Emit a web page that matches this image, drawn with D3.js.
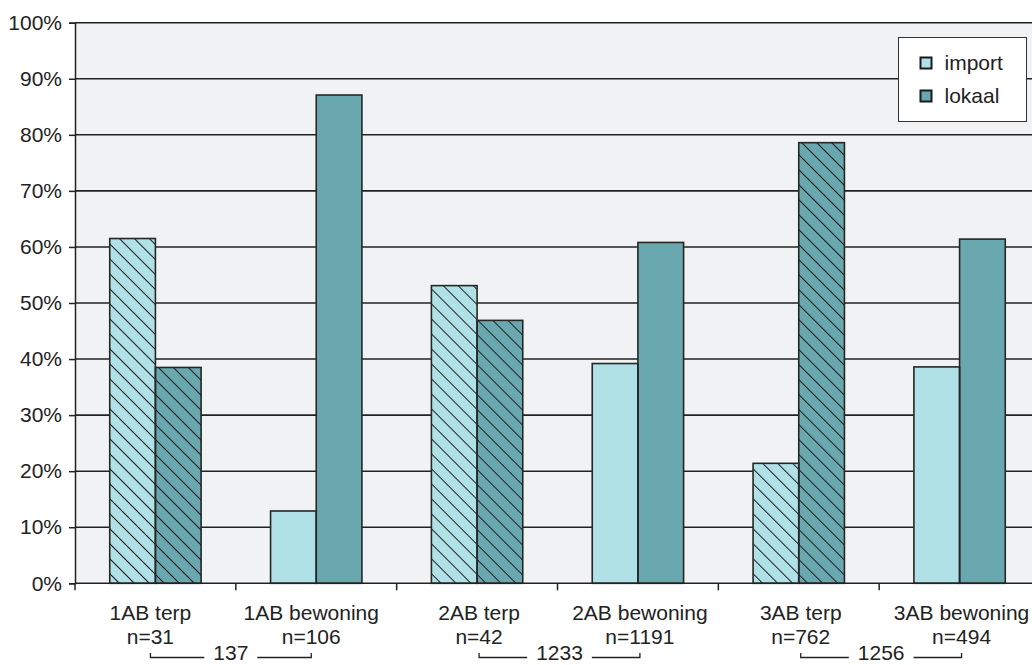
<!DOCTYPE html>
<html>
<head>
<meta charset="utf-8">
<script src="https://cdn.jsdelivr.net/npm/d3@7"></script>
<style>
  html, body { margin: 0; padding: 0; background: #ffffff; }
  svg { display: block; }
  text { font-family: "Liberation Sans", Arial, sans-serif; fill: #222; }
</style>
</head>
<body>
<svg id="chart" width="1032" height="665"></svg>
<script>
// Share of imported vs. local material per phase and context
const categories = ["1AB terp", "1AB bewoning", "2AB terp", "2AB bewoning", "3AB terp", "3AB bewoning"];
const counts = ["n=31", "n=106", "n=42", "n=1191", "n=762", "n=494"];
const hatched = [true, false, true, false, true, false];
const importValues = [61.5, 12.9, 53.1, 39.2, 21.4, 38.6];
const lokaalValues = [38.5, 87.1, 46.9, 60.8, 78.6, 61.4];
const seriesNames = ["import", "lokaal"];
const seriesColors = ["#b0e1e7", "#6aa8b0"];
const yTicks = [0, 10, 20, 30, 40, 50, 60, 70, 80, 90, 100];
// Totals per phase, bracketing each terp/bewoning pair
const pairTotals = ["137", "1233", "1256"];

const svg = d3.select("#chart");
const plotLeft = 75, plotTop = 22.7, plotBottom = 583.3, plotRight = 1040;
const fontSize = "21px";
// small horizontal nudges of the label column under each category
const labelNudge = [-5, -5, 2, 2, 2, 2];

const x = d3.scaleBand().domain(categories).range([plotLeft, plotRight]).padding(0);
const bw = x.bandwidth();
const xs = d3.scaleBand().domain(seriesNames).range([bw * 0.216, bw * 0.784]).padding(0);
const y = d3.scaleLinear().domain([0, 100]).range([plotBottom, plotTop]);
const labelX = (d, i) => x(d) + bw / 2 + labelNudge[i];

// Diagonal hatch used on the terp bars
const defs = svg.append("defs");
defs.append("pattern")
  .attr("id", "hatch")
  .attr("patternUnits", "userSpaceOnUse")
  .attr("width", 10.6).attr("height", 10.6)
  .attr("patternTransform", "rotate(-45)")
  .append("line")
  .attr("x1", 0.5).attr("y1", 0).attr("x2", 0.5).attr("y2", 10.6)
  .attr("stroke", "#1b1b1b").attr("stroke-width", 1);

// Plot background
svg.append("rect")
  .attr("x", plotLeft).attr("y", plotTop)
  .attr("width", 1032 - plotLeft).attr("height", plotBottom - plotTop)
  .attr("fill", "#f1f2f4");

// Horizontal gridlines
svg.append("g").selectAll("line").data(yTicks.filter(d => d > 0)).join("line")
  .attr("x1", plotLeft).attr("x2", 1032)
  .attr("y1", d => y(d)).attr("y2", d => y(d))
  .attr("stroke", "#222").attr("stroke-width", 1.6);

// Y axis
const yAxis = svg.append("g")
  .attr("transform", `translate(${plotLeft},0)`)
  .call(d3.axisLeft(y).tickValues(yTicks).tickFormat(d => d + "%").tickSize(6).tickPadding(7));
yAxis.select(".domain").attr("stroke", "#222").attr("stroke-width", 1.5);
yAxis.selectAll(".tick line").attr("stroke", "#222").attr("stroke-width", 1.5);
yAxis.selectAll(".tick text").attr("font-size", fontSize).attr("font-family", "Liberation Sans, Arial, sans-serif").attr("fill", "#222");

// Bars
const rows = categories.map((c, i) => ({ cat: c, hatched: hatched[i], values: [importValues[i], lokaalValues[i]] }));
const groups = svg.append("g").selectAll("g").data(rows).join("g")
  .attr("transform", d => `translate(${x(d.cat)},0)`);

groups.each(function(row) {
  const g = d3.select(this);
  const bars = seriesNames.map((s, j) => ({ s, v: row.values[j], color: seriesColors[j], hatched: row.hatched }));
  g.selectAll("rect.bar").data(bars).join("rect")
    .attr("class", "bar")
    .attr("x", d => xs(d.s)).attr("width", xs.bandwidth())
    .attr("y", d => y(d.v)).attr("height", d => y(0) - y(d.v))
    .attr("fill", d => d.color);
  g.selectAll("rect.hatch").data(bars.filter(d => d.hatched)).join("rect")
    .attr("class", "hatch")
    .attr("x", d => xs(d.s)).attr("width", xs.bandwidth())
    .attr("y", d => y(d.v)).attr("height", d => y(0) - y(d.v))
    .attr("fill", "url(#hatch)");
  g.selectAll("rect.outline").data(bars).join("rect")
    .attr("class", "outline")
    .attr("x", d => xs(d.s)).attr("width", xs.bandwidth())
    .attr("y", d => y(d.v)).attr("height", d => y(0) - y(d.v))
    .attr("fill", "none").attr("stroke", "#262626").attr("stroke-width", 1.6);
});

// Category axis line with boundary ticks
svg.append("line")
  .attr("x1", plotLeft).attr("x2", 1032).attr("y1", plotBottom).attr("y2", plotBottom)
  .attr("stroke", "#222").attr("stroke-width", 1.5);
svg.append("g").selectAll("line").data(categories).join("line")
  .attr("x1", d => x(d)).attr("x2", d => x(d))
  .attr("y1", plotBottom).attr("y2", plotBottom + 7)
  .attr("stroke", "#222").attr("stroke-width", 1.5);

// Category labels (two lines)
const labels = svg.append("g").selectAll("text").data(categories).join("text")
  .attr("text-anchor", "middle")
  .attr("font-size", fontSize);
labels.append("tspan")
  .attr("x", labelX).attr("y", 620)
  .text(d => d);
labels.append("tspan")
  .attr("x", labelX).attr("y", 644)
  .text((d, i) => counts[i]);

// Pair brackets with totals
const brackets = svg.append("g").selectAll("g").data(pairTotals).join("g");
brackets.each(function(t, k) {
  const g = d3.select(this);
  const x1 = labelX(categories[2 * k], 2 * k);
  const x2 = labelX(categories[2 * k + 1], 2 * k + 1);
  const mid = (x1 + x2) / 2;
  const label = g.append("text")
    .attr("x", mid).attr("y", 660.3)
    .attr("text-anchor", "middle").attr("font-size", fontSize)
    .text(t);
  const half = label.node().getComputedTextLength() / 2 + 9;
  const path = `M${x1},653 V657.5 H${mid - half} M${mid + half},657.5 H${x2} V653`;
  g.append("path").attr("d", path)
    .attr("fill", "none").attr("stroke", "#222").attr("stroke-width", 1.3);
});

// Legend
const legend = svg.append("g").attr("transform", "translate(898.5,37.5)");
legend.append("rect")
  .attr("width", 128).attr("height", 84)
  .attr("fill", "#ffffff").attr("stroke", "#333").attr("stroke-width", 1);
const items = legend.selectAll("g").data(seriesNames).join("g")
  .attr("transform", (d, i) => `translate(22,${20 + i * 33})`);
items.append("rect")
  .attr("width", 11).attr("height", 11)
  .attr("fill", (d, i) => seriesColors[i])
  .attr("stroke", "#1b1b1b").attr("stroke-width", 2);
items.append("text")
  .attr("x", 24).attr("y", 12.5)
  .attr("font-size", fontSize)
  .text(d => d);
</script>
</body>
</html>
